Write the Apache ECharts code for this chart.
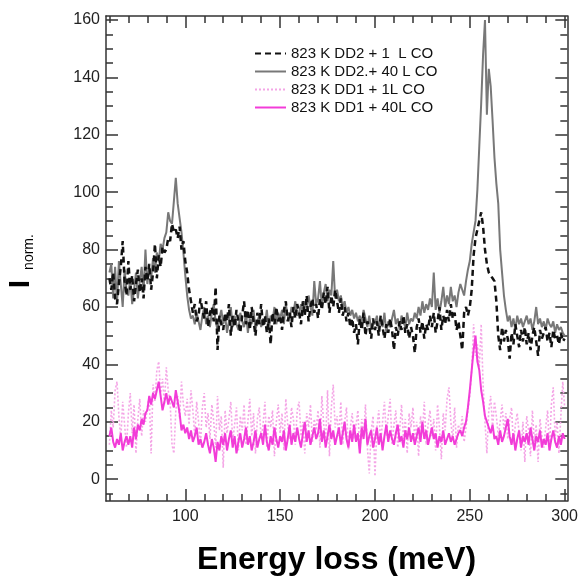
<!DOCTYPE html>
<html lang="en">
<head>
<meta charset="UTF-8">
<title>Energy loss</title>
<script src="https://cdn.jsdelivr.net/npm/echarts@6/dist/echarts.min.js"></script>
<style>html,body{margin:0;padding:0;background:#fff}</style>
</head>
<body>
<div id="main" style="width:581px;height:581px"></div>
<script>
var FONT = "'Liberation Sans', Arial, sans-serif";

// one point per meV, 60 .. 300
var energyStart = 60;

var names = ['823 K DD2 + 1  L CO', '823 K DD2.+ 40 L CO', '823 K DD1 + 1L CO', '823 K DD1 + 40L CO'];

// 823 K DD2 + 1 L CO (black dashed)
var dd2_1L = [
    70, 66, 72, 63, 61, 68, 74, 83, 69, 64,
    76, 66, 71, 62, 68, 73, 65, 70, 63, 74,
    69, 75, 66, 72, 82, 70, 78, 74, 81, 79,
    80, 84, 83, 89, 86, 87, 84, 88, 80, 83,
    76, 72, 66, 62, 58, 61, 55, 57, 63, 59,
    56, 62, 53, 58, 60, 55, 67, 45, 57, 54,
    52, 58, 55, 61, 50, 57, 53, 59, 55, 51,
    57, 62, 54, 59, 52, 60, 55, 50, 58, 54,
    61, 53, 57, 51, 56, 47, 58, 54, 60, 55,
    57, 52, 59, 62, 55, 58, 53, 60, 56, 61,
    58, 54, 62, 57, 64, 55, 60, 63, 58, 61,
    56, 63, 59, 65, 61, 67, 58, 64, 60, 66,
    62, 58, 63, 57, 60, 55, 58, 53, 56, 51,
    54, 47, 56, 52, 58, 50, 55, 53, 49, 56,
    52, 55, 50, 57, 53, 49, 54, 51, 56, 52,
    45, 53, 50, 55, 52, 57, 51, 54, 49, 53,
    50, 44, 53, 56, 51, 55, 49, 54, 52, 57,
    53, 58, 51, 55, 60, 52, 57, 54, 59, 55,
    61, 56, 58, 52, 55, 50, 45, 58, 60, 57,
    60, 66, 78, 84, 87, 90, 93, 88, 80, 75,
    72, 71, 70, 69, 62, 50, 45, 53, 48, 52,
    49, 42, 51, 47, 54, 50, 46, 52, 48, 53,
    47, 51, 45, 50, 53, 48, 43, 52, 49, 51,
    53, 48, 51, 46, 52, 49, 50, 47, 51, 48, 49
];

// 823 K DD2.+ 40 L CO (grey solid)
var dd2_40L = [
    72, 75, 63, 74, 61, 76, 68, 60, 73, 66,
    64, 70, 61, 66, 72, 63, 69, 74, 65, 80,
    68, 74, 70, 77, 72, 79, 76, 82, 80, 84,
    86, 93, 90, 89, 97, 105, 96, 91, 86, 79,
    71, 64, 59, 56, 57, 54, 58, 55, 52, 57,
    60, 54, 57, 53, 58, 61, 55, 52, 56, 59,
    54, 57, 51, 55, 60, 53, 57, 54, 52, 58,
    55, 53, 58, 51, 56, 54, 59, 52, 55, 57,
    53, 56, 54, 59, 52, 57, 55, 60, 54, 58,
    56, 59, 54, 61, 57, 55, 60, 58, 62, 57,
    58, 61, 57, 62, 59, 64, 60, 57, 69, 61,
    63, 69, 60, 65, 68, 62, 66, 64, 76, 63,
    66, 62, 64, 60, 62, 58, 60, 57, 59, 56,
    58, 55, 57, 54, 59, 56, 53, 57, 52, 55,
    54, 57, 52, 56, 53, 58, 51, 55, 53, 56,
    59, 54, 56, 52, 57, 55, 53, 58, 54, 56,
    55, 58, 56, 60, 57, 62, 58, 61, 59, 63,
    60, 72, 59, 63, 58, 62, 67, 60, 64, 61,
    67, 62, 64, 60, 65, 68, 66, 64, 69, 73,
    76, 82, 86, 90, 101, 116, 131, 148, 160, 127,
    143, 137, 125, 112, 103, 96, 80, 72, 64, 59,
    55, 57, 53, 56, 52, 57, 54, 56, 53, 55,
    57, 54, 56, 52, 55, 60, 54, 56, 53, 55,
    52, 56, 54, 53, 55, 51, 54, 52, 53, 51, 50
];

// 823 K DD1 + 1L CO (pink dotted)
var dd1_1L = [
    12, 24, 18, 31, 34, 22, 14, 27, 19, 11,
    23, 30, 16, 26, 9, 21, 28, 15, 24, 20,
    25, 29, 9, 33, 27, 38, 41, 30, 35, 26,
    39, 31, 27, 12, 9, 24, 29, 21, 34, 26,
    22, 28, 19, 31, 24, 15, 27, 20, 12, 25,
    30, 18, 23, 14, 26, 20, 11, 29, 17, 22,
    4, 24, 16, 21, 27, 13, 19, 25, 10, 22,
    17, 26, 12, 20, 28, 15, 23, 9, 21, 25,
    14, 19, 27, 11, 22, 18, 24, 8, 20, 26,
    16, 23, 10, 28, 19, 14, 25, 21, 12, 24,
    27, 15, 20, 9, 23, 18, 26, 13, 21, 17,
    24, 11, 29, 19, 14, 31, 8, 25, 33, 18,
    22, 15, 27, 12, 20, 25, 10, 18, 23, 14,
    19, 24, 9, 21, 16, 26, 11, 2, 17, 22,
    1, 18, 24, 13, 20, 27, 15, 22, 28, 12,
    19, 24, 11, 17, 26, 14, 21, 9, 23, 18,
    25, 13, 20, 8, 22, 16, 27, 12, 19, 24,
    15, 21, 10, 26, 18, 7, 23, 17, 28, 32,
    20, 14, 25, 11, 19, 16, 22, 13, 18, 24,
    29, 38, 54, 43, 47, 39, 54, 33, 20, 9,
    24, 29, 18, 27, 22, 15, 20, 26, 17, 23,
    14, 21, 25, 12, 19, 23, 16, 10, 20, 6,
    22, 17, 8, 24, 13, 19, 6, 21, 15, 11,
    18, 24, 10, 26, 32, 14, 20, 9, 22, 34, 25
];

// 823 K DD1 + 40L CO (magenta solid)
var dd1_40L = [
    15, 18, 13, 11, 14, 12, 16, 10, 13, 15,
    12, 15, 11, 18, 14, 19, 17, 21, 19, 23,
    24, 29, 26, 30, 28, 31, 34, 29, 24, 27,
    30, 26, 29, 27, 25, 31, 27, 23, 17, 19,
    16, 18, 14, 17, 13, 15, 18, 12, 14, 11,
    13, 16, 12, 9, 14, 11, 6, 13, 10, 15,
    12, 16, 10, 14, 17, 11, 15, 9, 13, 16,
    11, 14, 18, 12, 15, 10, 13, 17, 11, 14,
    16, 12, 19, 13, 10, 15, 12, 18, 14, 11,
    15, 13, 17, 10, 14, 19, 12, 16, 13, 18,
    14, 11, 16, 20, 13, 17, 12, 15, 18, 14,
    16, 21, 13, 17, 11, 15, 19, 14, 17, 12,
    15, 18, 12, 16, 20, 14, 11, 17, 13, 19,
    13, 16, 9, 18, 14, 21, 12, 15, 17, 11,
    14, 18, 12, 16, 10, 15, 19, 13, 17, 14,
    12, 16, 19, 13, 15, 11, 17, 14, 18, 13,
    16, 12, 15, 18, 13, 20, 14, 17, 12, 15,
    18, 14, 16, 11, 15, 13, 17, 12, 14, 16,
    13, 15, 12, 14, 16, 17, 15, 18, 20, 25,
    31, 38, 45, 50, 41, 38, 31, 27, 22, 20,
    18, 16, 19, 14, 15, 12, 17, 13, 15, 18,
    21, 15, 12, 16, 10, 14, 17, 11, 15, 13,
    16, 12, 18, 14, 10, 15, 13, 17, 11, 14,
    12, 16, 10, 14, 17, 13, 11, 15, 12, 16, 14
];

// tick positions
var xMajor = [100, 150, 200, 250, 300];
var xMinor = [60, 70, 80, 90, 110, 120, 130, 140, 160, 170, 180, 190, 210, 220, 230, 240, 260, 270, 280, 290];
var yMajor = [0, 20, 40, 60, 80, 100, 120, 140, 160];
var yMinor = [-5, 5, 10, 15, 25, 30, 35, 45, 50, 55, 65, 70, 75, 85, 90, 95, 105, 110, 115, 125, 130, 135, 145, 150, 155];

var X_MIN = 58.2, X_MAX = 301.4;
var Y_MIN = -7.6, Y_MAX = 161.4;

function pairs(vals) {
    return vals.map(function (v, i) { return [energyStart + i, v]; });
}

var axisColor = '#333';

function makeAxis(dir, pos, ticks, len, withLabels, withLine) {
    var ax = {
        type: 'value',
        position: pos,
        min: dir === 'x' ? X_MIN : Y_MIN,
        max: dir === 'x' ? X_MAX : Y_MAX,
        splitLine: {show: false},
        axisLine: {show: withLine, onZero: false, lineStyle: {color: axisColor, width: 1.5}},
        axisTick: {show: true, inside: true, length: len, customValues: ticks,
            lineStyle: {color: axisColor, width: 1.5}},
        axisLabel: {show: withLabels, customValues: ticks, color: '#222',
            fontFamily: FONT, fontSize: 16, margin: dir === 'x' ? 8 : 6}
    };
    return ax;
}

var myChart = echarts.init(document.getElementById('main'));

var option = {
    animation: false,
    backgroundColor: '#fff',
    grid: {left: 106, right: 11, top: 16, bottom: 74},
    legend: {
        left: 249, top: 41, orient: 'vertical',
        itemWidth: 31, itemHeight: 14, itemGap: 3,
        itemStyle: {opacity: 0},
        data: [names[0], names[1], names[2], names[3]],
        textStyle: {fontFamily: FONT, fontSize: 15, color: '#111'}
    },
    xAxis: [
        Object.assign(makeAxis('x', 'bottom', xMajor, 12, true, true), {
            name: 'Energy loss (meV)', nameLocation: 'middle', nameGap: 59,
            nameTextStyle: {fontFamily: FONT, fontSize: 32, fontWeight: 'bold', color: '#000', verticalAlign: 'middle'}
        }),
        makeAxis('x', 'bottom', xMinor, 7, false, false),
        makeAxis('x', 'top', xMajor, 12, false, true),
        makeAxis('x', 'top', xMinor, 7, false, false)
    ],
    yAxis: [
        makeAxis('y', 'left', yMajor, 12, true, true),
        makeAxis('y', 'left', yMinor, 7, false, false),
        makeAxis('y', 'right', yMajor, 12, false, true),
        makeAxis('y', 'right', yMinor, 7, false, false)
    ],
    graphic: [
        {type: 'text', x: 21, y: 284, rotation: Math.PI / 2,
            style: {text: 'I', font: 'bold 30px ' + FONT, fill: '#000', align: 'center', verticalAlign: 'middle'}},
        {type: 'text', x: 29, y: 252, rotation: Math.PI / 2,
            style: {text: 'norm.', font: '14px ' + FONT, fill: '#000', align: 'center', verticalAlign: 'middle'}}
    ],
    series: [
        {name: names[1], type: 'line', symbol: 'none', data: pairs(dd2_40L),
            lineStyle: {color: '#787878', width: 2}, itemStyle: {color: '#787878'}},
        {name: names[0], type: 'line', symbol: 'none', data: pairs(dd2_1L),
            lineStyle: {color: '#111', width: 2.5, type: [6, 4]}, itemStyle: {color: '#111'}},
        {name: names[2], type: 'line', symbol: 'none', data: pairs(dd1_1L),
            lineStyle: {color: '#f4a6e6', width: 1.6, type: [2, 2]}, itemStyle: {color: '#f4a6e6'}},
        {name: names[3], type: 'line', symbol: 'none', data: pairs(dd1_40L),
            lineStyle: {color: '#f23cd8', width: 2}, itemStyle: {color: '#f23cd8'}}
    ]
};

myChart.setOption(option);
</script>
</body>
</html>
